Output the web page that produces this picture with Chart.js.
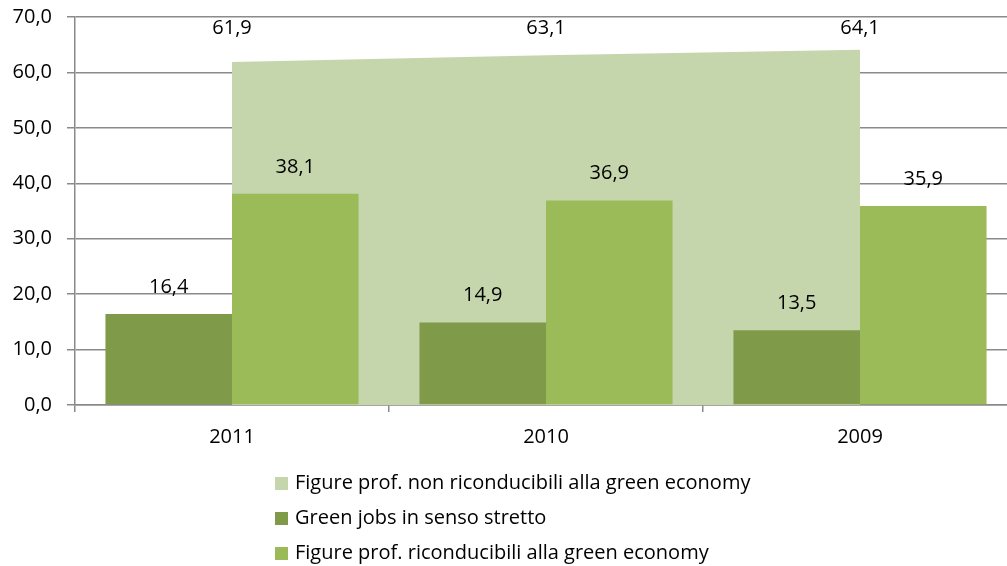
<!DOCTYPE html>
<html>
<head>
<meta charset="utf-8">
<script src="https://cdn.jsdelivr.net/npm/chart.js@4"></script>
<style>
    html, body { margin: 0; padding: 0; background: #fff; overflow: hidden; }
    canvas { display: block; }
</style>
</head>
<body>
<canvas id="greenChart" width="1020" height="566"></canvas>
<script>
// Data
const years = ['2011', '2010', '2009'];
const nonGreenValues = [61.9, 63.1, 64.1];
const greenJobsValues = [16.4, 14.9, 13.5];
const greenRelatedValues = [38.1, 36.9, 35.9];
const yTicks = [0, 10, 20, 30, 40, 50, 60, 70];

const seriesLabels = [
    'Figure prof. non riconducibili alla green economy',
    'Green jobs in senso stretto',
    'Figure prof. riconducibili alla green economy'
];

const FONT = '"Open Sans", "Liberation Sans", sans-serif';
const GRID = '#8a8a8a';

function fmt(v) {
    return v.toFixed(1).replace('.', ',');
}

// Value labels above bars / area points
const valueLabels = {
    id: 'valueLabels',
    afterDatasetsDraw(chart) {
        const ctx = chart.ctx;
        const area = chart.chartArea;
        ctx.save();
        ctx.font = '20px ' + FONT;
        ctx.fillStyle = '#000';
        ctx.textAlign = 'center';
        ctx.textBaseline = 'middle';
        chart.data.datasets.forEach(function (ds, i) {
            const meta = chart.getDatasetMeta(i);
            meta.data.forEach(function (el, j) {
                let y;
                if (ds.type === 'line') {
                    y = Math.max(el.y - 34, area.top + 11);
                } else {
                    y = el.y - 27;
                }
                ctx.fillText(fmt(ds.data[j]), el.x, y);
            });
        });
        ctx.restore();
    }
};

// Vertical legend under the plot
const stackedLegend = {
    id: 'stackedLegend',
    afterDraw(chart) {
        const ctx = chart.ctx;
        ctx.save();
        ctx.font = '20px ' + FONT;
        ctx.textAlign = 'left';
        ctx.textBaseline = 'middle';
        chart.data.datasets.forEach(function (ds, i) {
            const y = 483 + i * 35;
            ctx.fillStyle = ds.backgroundColor;
            ctx.fillRect(275, y - 6, 13, 13);
            ctx.fillStyle = '#000';
            ctx.fillText(ds.label, 295, y);
        });
        ctx.restore();
    }
};

const ctx = document.getElementById('greenChart').getContext('2d');
const greenChart = new Chart(ctx, {
    type: 'bar',
    data: {
        labels: years,
        datasets: [
            {
                type: 'line',
                label: seriesLabels[0],
                data: nonGreenValues,
                backgroundColor: '#c5d6ad',
                borderWidth: 0,
                pointRadius: 0,
                fill: 'origin',
                tension: 0,
                order: 2
            },
            {
                label: seriesLabels[1],
                data: greenJobsValues,
                backgroundColor: '#7f9a48',
                borderWidth: 0,
                order: 1
            },
            {
                label: seriesLabels[2],
                data: greenRelatedValues,
                backgroundColor: '#9bbb59',
                borderWidth: 0,
                order: 1
            }
        ]
    },
    options: {
        responsive: false,
        animation: false,
        categoryPercentage: 0.806,
        barPercentage: 1.0,
        layout: {
            padding: { left: 0, right: 3, top: 17, bottom: 111 }
        },
        plugins: {
            legend: { display: false },
            tooltip: { enabled: false }
        },
        scales: {
            x: {
                offset: true,
                grid: {
                    offset: true,
                    drawOnChartArea: false,
                    color: GRID,
                    lineWidth: 1.5,
                    tickLength: 7
                },
                border: { color: GRID, width: 1.5 },
                ticks: {
                    color: '#000',
                    padding: 13,
                    font: { family: FONT, size: 20 }
                },
                afterFit: function (scale) {
                    scale.height = 50;
                    scale.paddingLeft = 0;
                    scale.paddingRight = 0;
                }
            },
            y: {
                min: 0,
                max: 70,
                afterBuildTicks: function (scale) {
                    scale.ticks = yTicks.map(function (v) { return { value: v }; });
                },
                grid: {
                    color: GRID,
                    lineWidth: 1.5,
                    tickLength: 8
                },
                border: { color: GRID, width: 1.5 },
                ticks: {
                    color: '#000',
                    padding: 15,
                    font: { family: FONT, size: 20 },
                    callback: function (value) { return fmt(value); }
                },
                afterFit: function (scale) {
                    scale.width = 75;
                    scale.paddingTop = 0;
                    scale.paddingBottom = 0;
                }
            }
        }
    },
    plugins: [valueLabels, stackedLegend]
});
</script>
</body>
</html>
